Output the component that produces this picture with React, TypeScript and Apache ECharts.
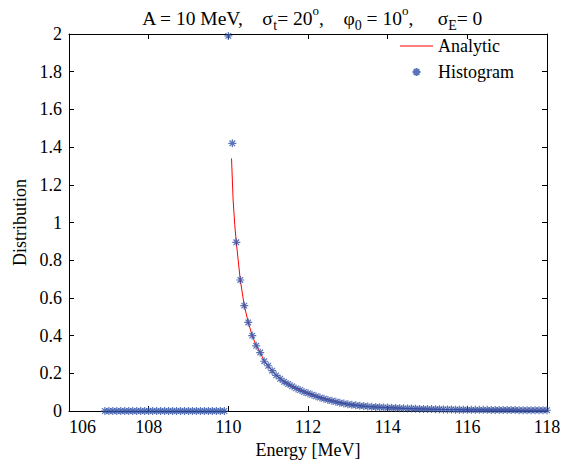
import React, { useEffect, useRef } from "react";
import * as echarts from "echarts";

// Histogram bin centres: 106.9 ... 118.0, step 0.1
const binStart = 106.9;
const binWidth = 0.1;
const histogramValues = [
  0, 0, 0, 0, 0, 0, 0, 0, 0, 0, 0, 0, 0, 0, 0, 0, 0, 0, 0, 0, 0, 0, 0, 0, 0, 0, 0, 0, 0, 0, 0,
  1.99, 1.42, 0.895, 0.695, 0.559, 0.47, 0.4, 0.346, 0.31, 0.264,
  0.24, 0.214, 0.189, 0.171, 0.155, 0.143, 0.131, 0.12, 0.111, 0.101,
  0.094, 0.086, 0.078, 0.071, 0.065, 0.059, 0.054, 0.049, 0.044, 0.04,
  0.036, 0.033, 0.03, 0.028, 0.026, 0.024, 0.022, 0.021, 0.02, 0.019,
  0.018, 0.017, 0.016, 0.015, 0.014, 0.013, 0.013, 0.012, 0.011, 0.011,
  0.01, 0.01, 0.009, 0.009, 0.008, 0.008, 0.008, 0.007, 0.007, 0.007,
  0.006, 0.006, 0.006, 0.006, 0.006, 0.006,
  0.005, 0.005, 0.005, 0.005, 0.005, 0.005, 0.005,
  0.004, 0.004, 0.004, 0.004, 0.004, 0.004, 0.004, 0.004,
];

const analyticX = [
  110.08, 110.12, 110.16, 110.2, 110.3, 110.4, 110.5, 110.6, 110.7, 110.8, 110.9, 111.0,
  111.2, 111.4, 111.6, 111.8, 112.0, 112.3, 112.6, 113.0, 113.5, 114.0, 114.5, 115.0,
  115.5, 116.0, 117.0, 118.0,
];
const analyticY = [
  1.34, 1.12, 0.99, 0.895, 0.695, 0.559, 0.47, 0.4, 0.346, 0.31, 0.266, 0.24,
  0.19, 0.156, 0.131, 0.111, 0.094, 0.072, 0.054, 0.036, 0.024, 0.018, 0.013, 0.01,
  0.008, 0.006, 0.005, 0.004,
];

const xTicks = { min: 106, max: 118, interval: 2 };
const yTicks = { min: 0, max: 2, interval: 0.2 };

const FONT = "Liberation Serif";
const FS = 18;
const TFS = 19.5;
const ASTERISK = "path://M0 4 L8 4 M4 0 L4 8 M1.2 1.2 L6.8 6.8 M6.8 1.2 L1.2 6.8";
const LINE_ICON = "path://M0 0 L33 0 L33 1 L0 1 Z";
const BLUE = "#3050a6";

export default function App() {
  const ref = useRef<HTMLDivElement>(null);

  useEffect(() => {
    document.body.style.margin = "0";
    if (!ref.current) return;
    const chart = echarts.init(ref.current, null, { renderer: "svg" });

    const histData = histogramValues.map((v, i) => [
      Math.round((binStart + i * binWidth) * 10) / 10,
      v,
    ]);
    const analyticData = analyticX.map((x, i) => [x, analyticY[i]]);

    const labelStyle = { color: "#000", fontFamily: FONT, fontSize: FS, fontWeight: "normal" as const };
    const axisCommon = {
      type: "value" as const,
      axisLine: { show: true, onZero: false, lineStyle: { color: "#000", width: 1 } },
      axisTick: { show: true, inside: true, length: 5, lineStyle: { color: "#000" } },
      splitLine: { show: false },
    };

    const n = { fontFamily: FONT, fontSize: TFS, fontWeight: "normal", color: "#000", lineHeight: 28 };

    chart.setOption({
      animation: false,
      backgroundColor: "#fff",
      textStyle: { fontFamily: FONT },
      title: {
        text:
          "{n|A = 10 MeV,    σ}{sub|t}{n|= 20}{sup|o}{n|,    φ}{sub|0}{n| = 10}{sup|o}{n|,     σ}{sub|E}{n|= 0}",
        left: 307,
        textAlign: "center",
        top: -1,
        textStyle: {
          fontWeight: "normal",
          fontFamily: FONT,
          rich: {
            n,
            sub: {
              fontFamily: FONT,
              fontSize: 14,
              fontWeight: "normal",
              color: "#000",
              lineHeight: 14,
              verticalAlign: "bottom",
            },
            sup: {
              fontFamily: FONT,
              fontSize: 13,
              fontWeight: "normal",
              color: "#000",
              lineHeight: 14,
              verticalAlign: "top",
            },
          },
        },
      },
      legend: {
        orient: "vertical",
        left: 400,
        top: 37,
        padding: 0,
        itemWidth: 33,
        itemHeight: 8,
        itemGap: 8,
        symbolKeepAspect: true,
        textStyle: { ...labelStyle, lineHeight: 18 },
        data: [
          { name: "Analytic", icon: LINE_ICON, itemStyle: { color: "#ff0000" } },
          { name: "Histogram" },
        ],
      },
      grid: { left: 69, right: 19, top: 34, bottom: 55, containLabel: false },
      xAxis: [
        {
          ...axisCommon,
          ...xTicks,
          position: "bottom",
          name: "Energy [MeV]",
          nameLocation: "middle",
          nameGap: 27,
          nameTextStyle: labelStyle,
          axisLabel: { ...labelStyle, margin: 7, alignMinLabel: "left" },
        },
        {
          ...axisCommon,
          ...xTicks,
          position: "top",
          axisLabel: { show: false },
        },
      ],
      yAxis: [
        {
          ...axisCommon,
          ...yTicks,
          position: "left",
          name: "Distribution",
          nameLocation: "middle",
          nameGap: 40,
          nameTextStyle: labelStyle,
          axisLabel: {
            ...labelStyle,
            margin: 7,
            formatter: (v: number) => String(Math.round(v * 10) / 10),
          },
        },
        {
          ...axisCommon,
          ...yTicks,
          position: "right",
          axisLabel: { show: false },
        },
      ],
      series: [
        {
          name: "Analytic",
          type: "line",
          data: analyticData,
          symbol: "none",
          showSymbol: false,
          lineStyle: { color: "#ff0000", width: 1 },
          itemStyle: { color: "#ff0000" },
          z: 2,
        },
        {
          name: "Histogram",
          type: "scatter",
          data: histData,
          symbol: ASTERISK,
          symbolSize: 8,
          symbolKeepAspect: true,
          itemStyle: { color: "transparent", borderColor: BLUE, borderWidth: 1.2 },
          z: 3,
        },
      ],
    });

    return () => chart.dispose();
  }, []);

  return (
    <div
      ref={ref}
      style={{ position: "absolute", left: 0, top: 0, width: 566, height: 466 }}
    />
  );
}
